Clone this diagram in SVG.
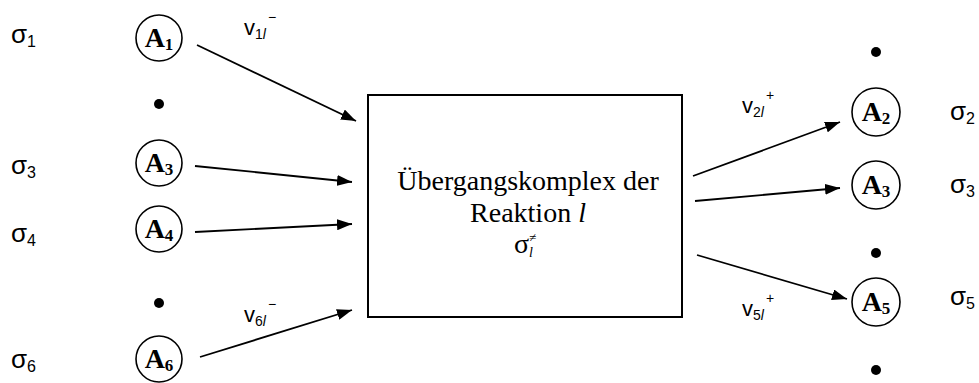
<svg xmlns="http://www.w3.org/2000/svg" width="979" height="383" viewBox="0 0 979 383">
  <defs>
    <marker id="arrow" viewBox="0 0 15 11" refX="15" refY="5.5" markerWidth="15" markerHeight="11" markerUnits="userSpaceOnUse" orient="auto">
      <path d="M0,0 L15,5.5 L0,11 Z" fill="#000"/>
    </marker>
    <style>
      .sig { font-family: "Liberation Sans", Arial, sans-serif; font-size: 26px; fill: #000; }
      .sub { font-size: 16px; }
      .circ { fill: #fff; stroke: #000; stroke-width: 1.6; }
      .lab { font-family: "Liberation Serif", "Times New Roman", "DejaVu Serif", serif; font-weight: bold; font-size: 28px; fill: #000; text-anchor: middle; }
      .lab .sub { font-size: 17px; }
      .dot { fill: #000; }
      .conn { stroke: #000; stroke-width: 1.8; fill: none; marker-end: url(#arrow); }
      .rate { font-family: "Liberation Sans", Arial, sans-serif; font-size: 22px; fill: #000; }
      .rsub { font-size: 14px; }
      .box { fill: #fff; stroke: #000; stroke-width: 2; }
      .ctext { font-family: "Liberation Serif", "Times New Roman", "DejaVu Serif", serif; font-size: 28px; fill: #000; text-anchor: middle; }
    </style>
  </defs>

  <rect width="979" height="383" fill="#fff"/>

  <!-- stoichiometric labels, left side -->
  <g id="sigma-left">
    <text class="sig" x="11" y="43">σ<tspan class="sub" dy="4">1</tspan></text>
    <text class="sig" x="11" y="174">σ<tspan class="sub" dy="4">3</tspan></text>
    <text class="sig" x="11" y="242">σ<tspan class="sub" dy="4">4</tspan></text>
    <text class="sig" x="11" y="368">σ<tspan class="sub" dy="4">6</tspan></text>
  </g>

  <!-- educt species -->
  <g id="A1"><circle class="circ" cx="159" cy="38" r="23"/><text class="lab" x="159" y="47">A<tspan class="sub" dy="3">1</tspan></text></g>
  <g id="dot-left-1"><circle class="dot" cx="159" cy="104" r="5"/></g>
  <g id="A3-left"><circle class="circ" cx="159" cy="163" r="23"/><text class="lab" x="159" y="172">A<tspan class="sub" dy="3">3</tspan></text></g>
  <g id="A4-left"><circle class="circ" cx="159" cy="229" r="23"/><text class="lab" x="159" y="238">A<tspan class="sub" dy="3">4</tspan></text></g>
  <g id="dot-left-2"><circle class="dot" cx="159" cy="303" r="5"/></g>
  <g id="A6"><circle class="circ" cx="159" cy="359" r="23"/><text class="lab" x="159" y="368">A<tspan class="sub" dy="3">6</tspan></text></g>

  <!-- transition complex -->
  <g id="complex">
    <rect class="box" x="368" y="95" width="314" height="222"/>
    <text class="ctext" x="528" y="190">Übergangskomplex der</text>
    <text class="ctext" x="528" y="222">Reaktion <tspan font-style="italic">l</tspan></text>
    <text class="ctext" x="525" y="253" font-size="30px">σ<tspan font-size="14px" font-style="italic" dy="4">l</tspan><tspan font-size="13px" dx="-4" dy="-15">≠</tspan></text>
  </g>

  <!-- product species -->
  <g id="dot-right-1"><circle class="dot" cx="876" cy="52" r="5"/></g>
  <g id="A2"><circle class="circ" cx="876" cy="112" r="24"/><text class="lab" x="876" y="121">A<tspan class="sub" dy="3">2</tspan></text></g>
  <g id="A3-right"><circle class="circ" cx="876" cy="185" r="24"/><text class="lab" x="876" y="194">A<tspan class="sub" dy="3">3</tspan></text></g>
  <g id="dot-right-2"><circle class="dot" cx="876" cy="253" r="5"/></g>
  <g id="A5"><circle class="circ" cx="876" cy="302" r="24"/><text class="lab" x="876" y="311">A<tspan class="sub" dy="3">5</tspan></text></g>
  <g id="dot-right-3"><circle class="dot" cx="876" cy="370" r="5"/></g>

  <!-- stoichiometric labels, right side -->
  <g id="sigma-right">
    <text class="sig" x="950" y="120">σ<tspan class="sub" dy="4">2</tspan></text>
    <text class="sig" x="950" y="193">σ<tspan class="sub" dy="4">3</tspan></text>
    <text class="sig" x="950" y="305">σ<tspan class="sub" dy="4">5</tspan></text>
  </g>

  <!-- reaction arrows -->
  <g id="connectors">
    <line class="conn" x1="197" y1="45" x2="356" y2="121"/>
    <line class="conn" x1="195" y1="166" x2="352" y2="182"/>
    <line class="conn" x1="195" y1="232" x2="352" y2="224"/>
    <line class="conn" x1="200" y1="357" x2="352" y2="310"/>
    <line class="conn" x1="693" y1="176" x2="840" y2="122"/>
    <line class="conn" x1="695" y1="201" x2="840" y2="188"/>
    <line class="conn" x1="697" y1="255" x2="847" y2="299"/>
  </g>

  <!-- rate labels -->
  <g id="rates">
    <text class="rate" x="244" y="35">v<tspan class="rsub" dy="4">1<tspan font-style="italic">l</tspan></tspan><tspan font-size="14px" dx="2" dy="-17">−</tspan></text>
    <text class="rate" x="244" y="322">v<tspan class="rsub" dy="4">6<tspan font-style="italic">l</tspan></tspan><tspan font-size="14px" dx="2" dy="-17">−</tspan></text>
    <text class="rate" x="742" y="113">v<tspan class="rsub" dy="4">2<tspan font-style="italic">l</tspan></tspan><tspan font-size="14px" dx="2" dy="-17">+</tspan></text>
    <text class="rate" x="742" y="316">v<tspan class="rsub" dy="4">5<tspan font-style="italic">l</tspan></tspan><tspan font-size="14px" dx="2" dy="-17">+</tspan></text>
  </g>
</svg>
